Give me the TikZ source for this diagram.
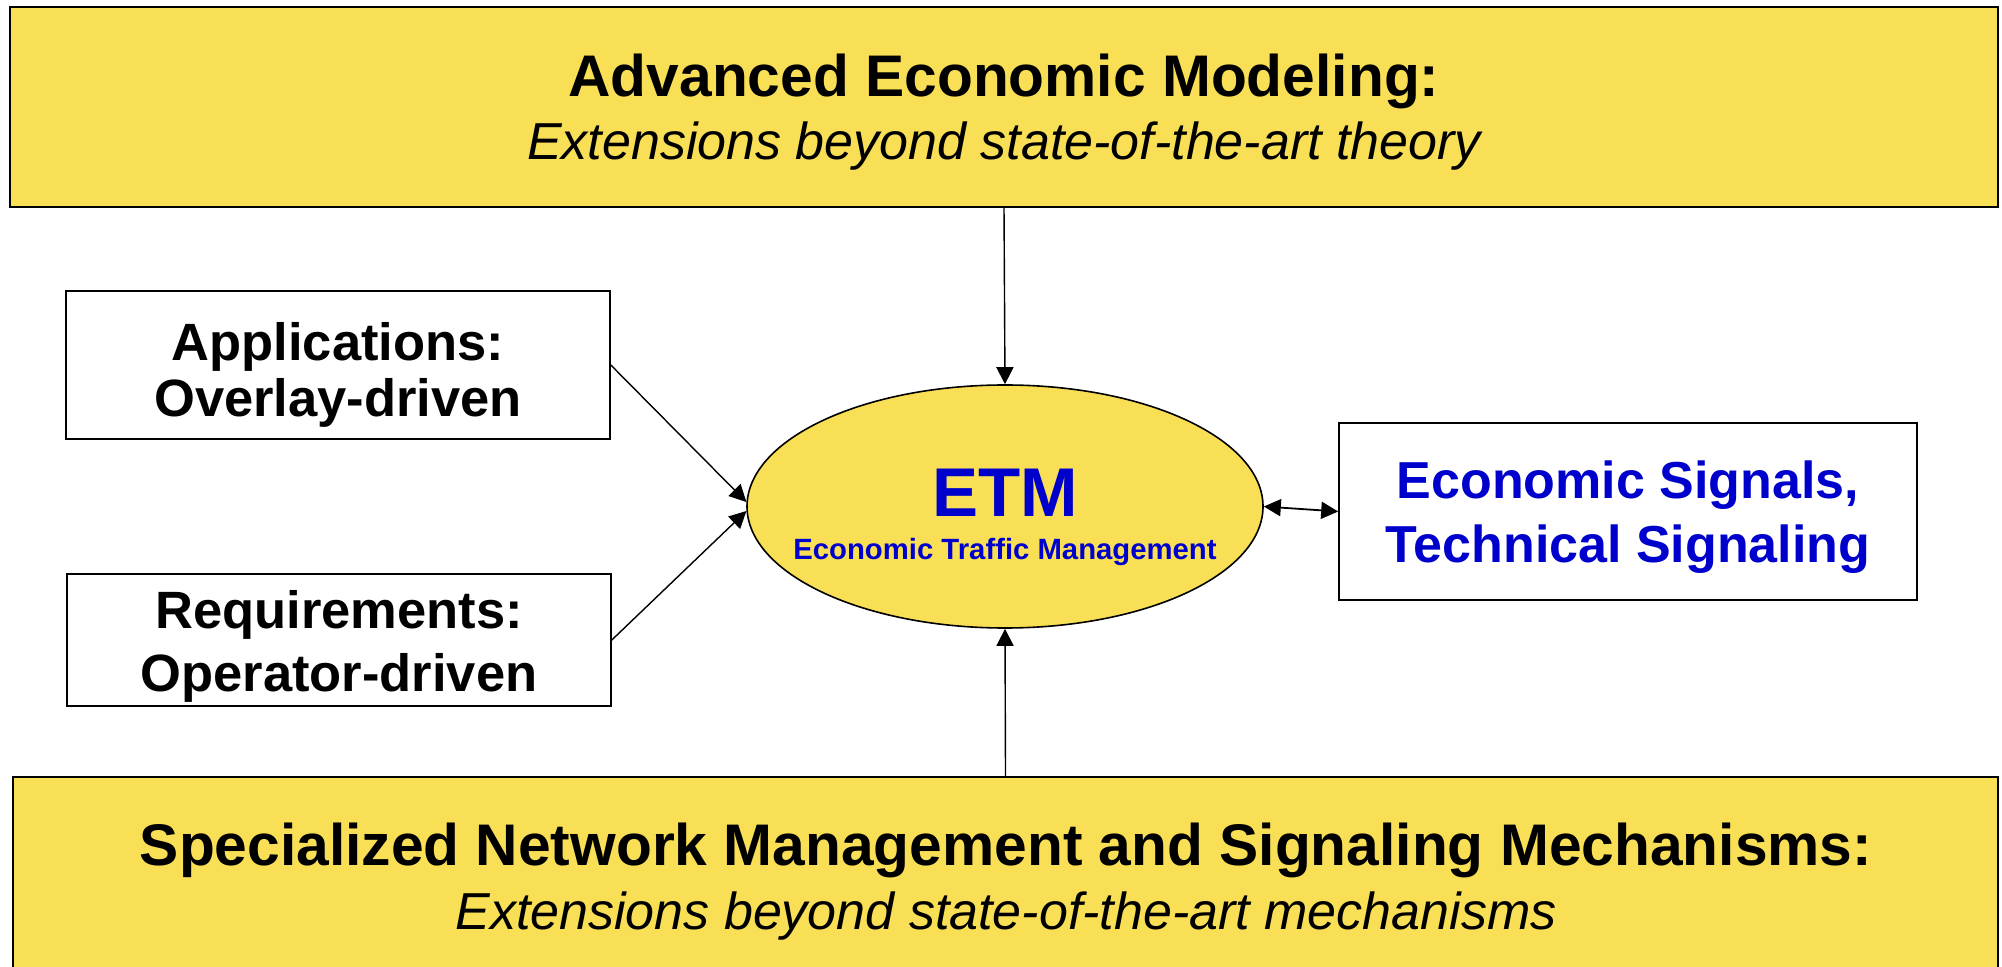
\documentclass[tikz,border=0pt]{standalone}
\usepackage{fontspec}
\setmainfont{Liberation Sans}
\usetikzlibrary{arrows.meta,shapes.geometric}
\definecolor{boxyellow}{HTML}{F9DF55}
\definecolor{etmblue}{HTML}{0000CC}
\begin{document}
\begin{tikzpicture}[x=0.5pt,y=-0.5pt,
  panel/.style={draw=black, line width=1pt, fill=boxyellow, rectangle, inner sep=0pt},
  sidebox/.style={draw=black, line width=0.8pt, fill=white, rectangle, inner sep=0pt},
  hub/.style={draw=black, line width=0.8pt, fill=boxyellow, ellipse, inner sep=0pt,
              minimum width=258pt, minimum height=121.5pt},
  txt/.style={anchor=base, inner sep=0pt},
  headline/.style={txt, font=\fontsize{29.35}{35}\selectfont\bfseries},
  subline/.style={txt, font=\fontsize{26}{31}\selectfont\itshape},
  sidetext/.style={txt, font=\fontsize{26.25}{31}\selectfont\bfseries},
  signaltext/.style={txt, text=etmblue, font=\fontsize{26}{31}\selectfont\bfseries},
  link/.style={line width=0.7pt, -{Triangle[length=8.5pt,width=8.5pt]}},
  duallink/.style={line width=0.9pt, {Triangle[length=8.5pt,width=8.5pt]}-{Triangle[length=8.5pt,width=8.5pt]}},
]
\clip (0,0) rectangle (2002,967);
\fill[white] (0,0) rectangle (2002,967);

% top panel: economic modeling
\node[panel, minimum width=994pt, minimum height=100pt] (top) at (1004,107) {};
\node[headline] (toptitle) at (1004,97) {Advanced Economic Modeling:};
\node[subline] (topsub) at (1004,160) {Extensions beyond state-of-the-art theory};

% bottom panel: network mechanisms (runs off the lower edge)
\node[panel, line width=0.8pt, minimum width=992.5pt, minimum height=120pt] (bottom) at (1005.5,897) {};
\node[headline] (bottomtitle) at (1006,865) {Specialized Network Management and Signaling Mechanisms:};
\node[subline] (bottomsub) at (1006,929) {Extensions beyond state-of-the-art mechanisms};

% left input boxes
\node[sidebox, minimum width=272pt, minimum height=74pt] (app) at (338,365) {};
\node[sidetext] (apptop) at (338,361) {Applications:};
\node[sidetext] (appbot) at (338,417) {Overlay-driven};

\node[sidebox, minimum width=272pt, minimum height=66pt] (req) at (339,640) {};
\node[sidetext] (reqtop) at (339,628) {Requirements:};
\node[sidetext] (reqbot) at (339,691) {Operator-driven};

% central ETM ellipse
\node[hub] (etm) at (1005,506.5) {};
\node[txt, text=etmblue, font=\fontsize{34.5}{40}\selectfont\bfseries] (etmtitle) at (1005,517) {ETM};
\node[txt, text=etmblue, font=\fontsize{14.65}{18}\selectfont\bfseries] (etmsub) at (1005,559.5) {Economic Traffic Management};

% right signalling box
\node[sidebox, minimum width=289pt, minimum height=88.5pt] (sig) at (1628,511.5) {};
\node[signaltext] (sigtop) at (1628,499) {Economic Signals,};
\node[signaltext] (sigbot) at (1628,563) {Technical Signaling};

% connectors
\draw[link] (top.south) -- (etm.north);
\draw[link] (bottom.north) -- (etm.south);
\draw[link] (app.east) -- (etm.179);
\draw[link] (req.east) -- (etm.181);
\draw[duallink] (etm.east) -- (sig.west);
\end{tikzpicture}
\end{document}
